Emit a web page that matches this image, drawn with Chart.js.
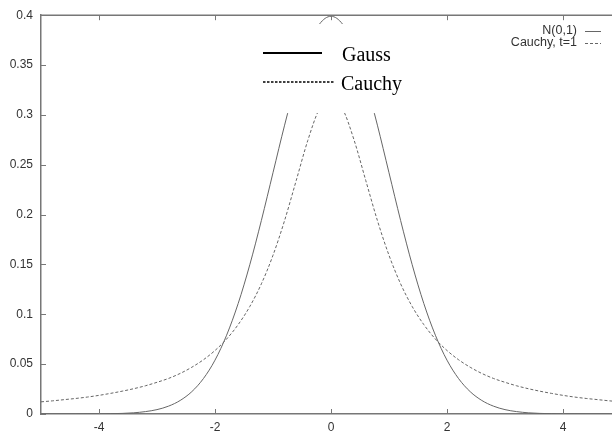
<!DOCTYPE html>
<html>
<head>
<meta charset="utf-8">
<script src="https://cdn.jsdelivr.net/npm/chart.js@4"></script>
<style>
  html, body { margin: 0; padding: 0; background: #fff; }
  #wrap { width: 612px; height: 433px; }
</style>
</head>
<body>
<div id="wrap"><canvas id="chart" width="612" height="433"></canvas></div>
<script>
// x positions of the sampled points
const xs = [-5, -4.8, -4.6, -4.4, -4.2, -4, -3.8, -3.6, -3.4, -3.2, -3, -2.8, -2.6, -2.4, -2.2, -2, -1.8, -1.6, -1.4, -1.2, -1, -0.8, -0.6, -0.4, -0.2,
  0, 0.2, 0.4, 0.6, 0.8, 1, 1.2, 1.4, 1.6, 1.8, 2, 2.2, 2.4, 2.6, 2.8, 3, 3.2, 3.4, 3.6, 3.8, 4, 4.2, 4.4, 4.6, 4.8, 5];

// N(0,1)
const gauss = [0, 0, 0, 0, 0.0001, 0.0001, 0.0003, 0.0006, 0.0012, 0.0024, 0.0044, 0.0079, 0.0136, 0.0224, 0.0355, 0.054, 0.079, 0.1109, 0.1497, 0.1942, 0.242, 0.2897, 0.3332, 0.3683, 0.391,
  0.3989, 0.391, 0.3683, 0.3332, 0.2897, 0.242, 0.1942, 0.1497, 0.1109, 0.079, 0.054, 0.0355, 0.0224, 0.0136, 0.0079, 0.0044, 0.0024, 0.0012, 0.0006, 0.0003, 0.0001, 0.0001, 0, 0, 0, 0];

// Cauchy, t=1
const cauchy = [0.0122, 0.0132, 0.0144, 0.0156, 0.017, 0.0187, 0.0207, 0.0229, 0.0254, 0.0283, 0.0318, 0.0357, 0.0407, 0.0469, 0.0544, 0.0637, 0.0752, 0.0897, 0.1078, 0.1306, 0.1592, 0.1941, 0.2341, 0.2744, 0.3061,
  0.3183, 0.3061, 0.2744, 0.2341, 0.1941, 0.1592, 0.1306, 0.1078, 0.0897, 0.0752, 0.0637, 0.0544, 0.0469, 0.0407, 0.0357, 0.0318, 0.0283, 0.0254, 0.0229, 0.0207, 0.0187, 0.017, 0.0156, 0.0144, 0.0132, 0.0122];

const xTicks = [-4, -2, 0, 2, 4];
const yTicks = [0, 0.05, 0.1, 0.15, 0.2, 0.25, 0.3, 0.35, 0.4];
const seriesNames = ["N(0,1)", "Cauchy, t=1"];
const overlayNames = ["Gauss", "Cauchy"];

const axisColor = "#777";
const curveColor = "#666";

// inner ticks (top, bottom, left), top border, both legends and the white patch
const decorations = {
  id: "decorations",
  afterDatasetsDraw(chart) {
    const ctx = chart.ctx;
    const a = chart.chartArea;
    const xs_ = chart.scales.x, ys_ = chart.scales.y;
    ctx.save();
    ctx.strokeStyle = axisColor;
    ctx.lineWidth = 1.5;
    ctx.beginPath();
    ctx.moveTo(a.left, a.top);
    ctx.lineTo(a.right, a.top);
    ctx.stroke();
    ctx.lineWidth = 1;
    xTicks.forEach(v => {
      const px = Math.round(xs_.getPixelForValue(v)) + 0.5;
      ctx.beginPath();
      ctx.moveTo(px, a.bottom); ctx.lineTo(px, a.bottom - 5);
      ctx.moveTo(px, a.top); ctx.lineTo(px, a.top + 5);
      ctx.stroke();
    });
    yTicks.forEach(v => {
      const py = Math.round(ys_.getPixelForValue(v)) + 0.5;
      ctx.beginPath();
      ctx.moveTo(a.left, py); ctx.lineTo(a.left + 5, py);
      ctx.stroke();
    });

    // white patch with the added legend
    ctx.fillStyle = "#fff";
    ctx.fillRect(255, 24, 155, 89);
    ctx.strokeStyle = "#000";
    ctx.lineWidth = 2;
    ctx.beginPath();
    ctx.moveTo(263, 53); ctx.lineTo(322, 53);
    ctx.stroke();
    ctx.lineWidth = 1.5;
    ctx.setLineDash([2.5, 1.5]);
    ctx.beginPath();
    ctx.moveTo(263, 82); ctx.lineTo(334, 82);
    ctx.stroke();
    ctx.setLineDash([]);
    ctx.fillStyle = "#000";
    ctx.font = "20px 'Liberation Serif', 'Times New Roman', serif";
    ctx.textBaseline = "alphabetic";
    ctx.textAlign = "left";
    ctx.fillText(overlayNames[0], 342, 61);
    ctx.fillText(overlayNames[1], 341, 90);

    // original key, top right
    ctx.font = "12.5px 'Liberation Sans', Arial, sans-serif";
    ctx.fillStyle = "#333";
    ctx.textAlign = "right";
    ctx.textBaseline = "middle";
    ctx.fillText(seriesNames[0], 577, 31);
    ctx.fillText(seriesNames[1], 577, 43);
    ctx.strokeStyle = curveColor;
    ctx.lineWidth = 1;
    ctx.beginPath();
    ctx.moveTo(585, 31.5); ctx.lineTo(601, 31.5);
    ctx.stroke();
    ctx.setLineDash([3, 2]);
    ctx.beginPath();
    ctx.moveTo(585, 43.5); ctx.lineTo(601, 43.5);
    ctx.stroke();
    ctx.restore();
  }
};

const tickFont = {family: "'Liberation Sans', Arial, sans-serif", size: 12};

new Chart(document.getElementById("chart"), {
  type: "line",
  data: {
    datasets: [
      {label: seriesNames[0], data: xs.map((x, i) => ({x, y: gauss[i]})),
       borderColor: curveColor, borderWidth: 1, pointRadius: 0, cubicInterpolationMode: "monotone", fill: false},
      {label: seriesNames[1], data: xs.map((x, i) => ({x, y: cauchy[i]})),
       borderColor: curveColor, borderWidth: 1, borderDash: [3, 2], pointRadius: 0, cubicInterpolationMode: "monotone", fill: false}
    ]
  },
  options: {
    responsive: false,
    animation: false,
    layout: {padding: {top: 12, right: 0, left: 0, bottom: 0}},
    plugins: {legend: {display: false}, tooltip: {enabled: false}},
    scales: {
      x: {
        type: "linear", min: -5, max: 4.845,
        afterBuildTicks: s => { s.ticks = xTicks.map(v => ({value: v})); },
        afterFit: s => { s.height = 19; },
        grid: {display: false, drawTicks: false},
        border: {color: axisColor, width: 1.5},
        ticks: {color: "#333", font: tickFont, padding: 6, maxRotation: 0, callback: v => String(v)}
      },
      y: {
        min: 0, max: 0.4,
        afterBuildTicks: s => { s.ticks = yTicks.map(v => ({value: v})); },
        afterFit: s => { s.width = 41; },
        grid: {display: false, drawTicks: false},
        border: {color: axisColor, width: 1.5},
        ticks: {color: "#333", font: tickFont, padding: 8, callback: v => String(+v.toFixed(2))}
      }
    }
  },
  plugins: [decorations]
});
</script>
</body>
</html>
